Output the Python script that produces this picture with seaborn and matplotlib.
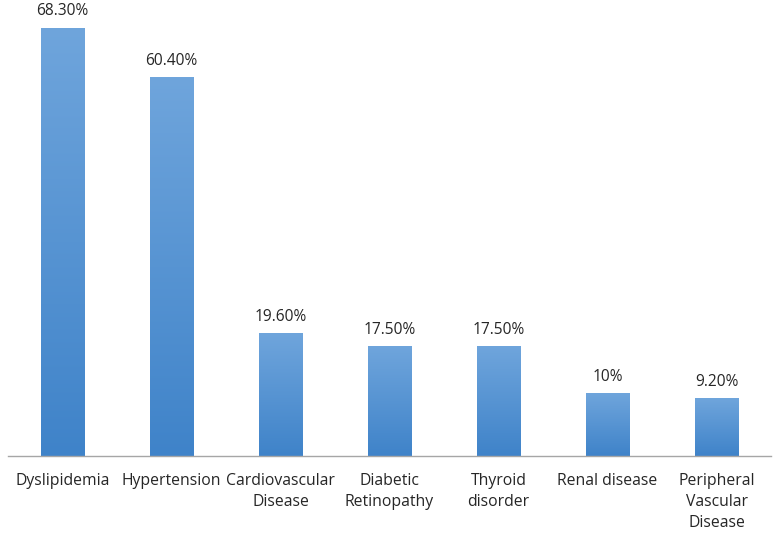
import matplotlib
matplotlib.use('Agg')
import matplotlib.pyplot as plt
import numpy as np
import pandas as pd
import seaborn as sns
from matplotlib.colors import LinearSegmentedColormap

# values
conditions = ['Dyslipidemia', 'Hypertension', 'Cardiovascular\nDisease', 'Diabetic\nRetinopathy',
              'Thyroid\ndisorder', 'Renal disease', 'Peripheral\nVascular\nDisease']
percent = [68.3, 60.4, 19.6, 17.5, 17.5, 10.0, 9.2]
value_labels = ['68.30%', '60.40%', '19.60%', '17.50%', '17.50%', '10%', '9.20%']

df = pd.DataFrame({'condition': conditions, 'percent': percent})

sns.set_style('white')
plt.rcParams['font.family'] = ['Open Sans', 'DejaVu Sans']

fig = plt.figure(figsize=(7.79, 5.34), dpi=100)
ax = fig.add_axes([0.01, 78 / 534, 0.98, 456 / 534])

sns.barplot(data=df, x='condition', y='percent', color='#5b9bd5', width=0.4, ax=ax, saturation=1)

# vertical gradient on each bar, lighter at the top
grad = LinearSegmentedColormap.from_list('bar', ['#3f83c9', '#6fa5dc'])
for bar, lab in zip(ax.patches, value_labels):
    x0, y0 = bar.get_x(), bar.get_y()
    w, h = bar.get_width(), bar.get_height()
    img = ax.imshow(np.linspace(0, 1, 256).reshape(-1, 1), cmap=grad, origin='lower',
                    extent=[x0, x0 + w, y0, y0 + h], aspect='auto', zorder=bar.get_zorder() + 0.1)
    img.set_clip_path(bar)
    ax.annotate(lab, (x0 + w / 2, y0 + h), xytext=(0, 6), textcoords='offset points',
                ha='center', va='bottom', fontsize=11.2, color='#262626')
ax.set_xlim(-0.5, len(conditions) - 0.5)
ax.set_ylim(0, 72.7)

for s in ['top', 'right', 'left']:
    ax.spines[s].set_visible(False)
ax.spines['bottom'].set_color('#a6a6a6')
ax.spines['bottom'].set_linewidth(1)
ax.set_yticks([])
ax.set_xlabel('')
ax.set_ylabel('')
ax.tick_params(axis='x', length=0, pad=12, labelsize=11.3, labelcolor='#262626')
for t in ax.get_xticklabels():
    t.set_linespacing(1.45)
    t.set_verticalalignment('top')

fig.savefig('out.png', dpi=100, facecolor='white')
